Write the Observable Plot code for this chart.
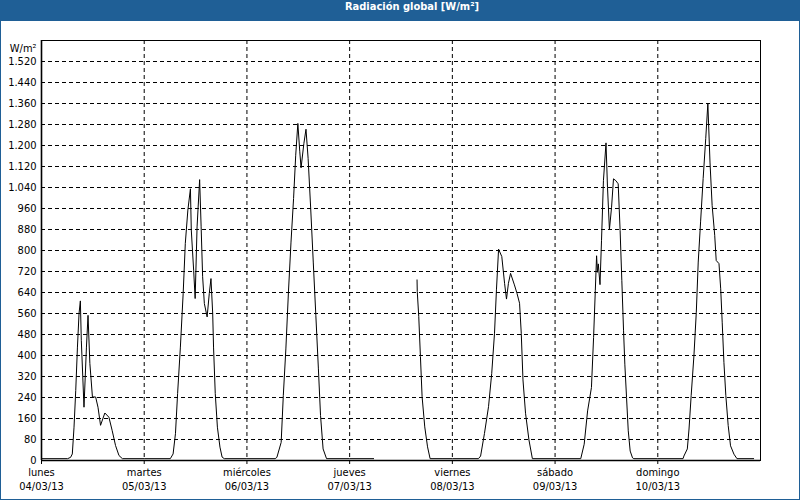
<!DOCTYPE html>
<html>
<head>
<meta charset="utf-8">
<script src="https://cdn.jsdelivr.net/npm/d3@7"></script>
<script src="https://cdn.jsdelivr.net/npm/@observablehq/plot@0.6"></script>
<style>
  html, body { margin: 0; padding: 0; background: #fff; }
  #win { position: relative; width: 800px; height: 500px; box-sizing: border-box;
         border-left: 1px solid #1f5f96; border-right: 1px solid #1f5f96; border-bottom: 1px solid #1f5f96; background: #fff; overflow: hidden; }
  #title { height: 21px; line-height: 21px; background: #1f5f96; color: #fff; text-align: center;
           font: bold 11px "DejaVu Sans Condensed", "DejaVu Sans", sans-serif; padding-left: 24px; margin-left: -1px; margin-right: -1px; }
  #chart svg { display: block; }
</style>
</head>
<body>
<div id="win">
  <div id="title">Radiación global [W/m²]</div>
  <div id="chart"></div>
</div>
<script>
// ---- labels ----
const titleText = "Radiación global [W/m²]";
const unitLabel = "W/m²";
const weekdays = ["lunes", "martes", "miércoles", "jueves", "viernes", "sábado", "domingo"];
const dateLabels = ["04/03/13", "05/03/13", "06/03/13", "07/03/13", "08/03/13", "09/03/13", "10/03/13"];
const yTicks = [0, 80, 160, 240, 320, 400, 480, 560, 640, 720, 800, 880, 960, 1040, 1120, 1200, 1280, 1360, 1440, 1520];

// ---- series: [hour of day, W/m²] per day (null = no data) ----
const lunes = [[0,7],[6.1,7],[6.8,12],[7.2,25],[7.6,127],[8.0,267],[8.4,432],[8.77,560],[9.08,608],[9.3,458],[9.93,203],[10.5,432],[10.87,553],[11.3,370],[11.9,242],[12.65,242],[13.2,203],[13.8,134],[14.8,181],[15.75,165],[16.5,115],[17.3,57],[18.1,19],[18.9,7]];
const martes = [[0,7],[6.1,7],[6.75,25],[7.3,102],[7.8,255],[8.45,432],[9.1,636],[9.6,827],[10.2,954],[10.8,1035],[11.0,878],[11.55,725],[11.9,617],[12.35,890],[12.95,1070],[13.3,890],[13.65,700],[14.05,598],[14.7,547],[15.2,636],[15.6,693],[16.0,560],[16.2,432],[16.6,255],[17.1,127],[17.7,51],[18.2,13],[18.7,7]];
const miercoles = [[0,7],[6.6,7],[7.0,12],[8.0,69],[8.5,247],[9.1,425],[9.7,642],[10.3,832],[10.9,998],[11.4,1163],[11.9,1284],[12.35,1176],[12.65,1115],[13.3,1207],[13.8,1262],[14.3,1150],[14.9,960],[15.5,756],[16.1,553],[16.7,349],[17.2,171],[17.8,44],[18.6,7]];
const jueves = [[0,7],[5.6,7],[5.65,null],[15.75,688],[15.8,644],[16.15,548],[16.54,396],[16.93,243],[17.55,128],[18.2,52],[18.8,7]];
const viernes = [[0,7],[6.1,7],[6.6,17],[7.5,103],[8.45,205],[9.2,332],[9.85,485],[10.3,650],[10.8,805],[11.55,777],[12.2,675],[12.65,615],[13.1,675],[13.6,713],[14.5,669],[15.1,637],[15.7,599],[16.1,485],[16.5,307],[17.1,180],[17.9,78],[18.7,7]];
const sabado = [[0,7],[6.0,7],[6.8,62],[7.6,189],[8.5,278],[9.0,469],[9.4,647],[9.7,780],[9.9,717],[10.1,749],[10.5,670],[10.85,837],[11.3,1066],[11.9,1210],[12.25,1041],[12.7,880],[13.2,965],[13.65,1073],[14.2,1066],[14.75,1054],[15.2,876],[15.6,685],[16.0,494],[16.3,367],[16.7,240],[17.1,113],[17.55,36],[18.1,10],[18.4,7]];
const domingo = [[0,7],[5.9,7],[6.1,17],[6.9,44],[7.3,120],[7.8,247],[8.45,400],[9.0,565],[9.45,756],[10.0,909],[10.6,1074],[11.2,1226],[11.7,1360],[12.2,1137],[12.7,972],[13.3,858],[13.65,762],[14.3,750],[14.7,654],[15.05,527],[15.45,374],[15.9,247],[16.45,133],[17.0,56],[17.8,24],[18.5,7],[22.4,7]];

const seriesByDay = [lunes, martes, miercoles, jueves, viernes, sabado, domingo];
const dayIdx = weekdays.map((_, i) => i);
const data = seriesByDay.flatMap((arr, d) => arr.map(([h, v]) => ({t: d + h / 24, v})));

const es = d3.formatLocale({decimal: ",", thousands: ".", grouping: [3], currency: ["", "€"]});
const fmt = es.format(",");

const dash = "4,3";
const chart = Plot.plot({
  width: 798,
  height: 478,
  marginTop: 19,
  marginBottom: 39,
  marginLeft: 40,
  marginRight: 39,
  x: {domain: [0, 7], axis: null},
  y: {domain: [0, 1600], axis: null},
  style: {fontFamily: '"DejaVu Sans Condensed", "DejaVu Sans", sans-serif', fontSize: "11px", color: "#000", background: "#fff"},
  marks: [
    Plot.ruleY(yTicks.filter(d => d > 0), {stroke: "#000", strokeDasharray: dash}),
    Plot.ruleX(dayIdx.filter(d => d > 0), {x: d => d, stroke: "#000", strokeDasharray: dash}),
    Plot.line(data, {x: "t", y: "v", stroke: "#000", strokeWidth: 1}),
    Plot.frame({stroke: "#000"}),
    Plot.ruleY([0], {stroke: "#000", strokeWidth: 1.6}),
    Plot.ruleX([0], {stroke: "#000", strokeWidth: 1.6}),
    Plot.axisY(yTicks, {tickSize: 0, tickPadding: 5, tickFormat: fmt, label: null, fill: "#000"}),
    Plot.axisX(dayIdx, {tickSize: 4, tickFormat: () => "", label: null}),
    Plot.text(dayIdx, {x: d => d, text: d => weekdays[d], frameAnchor: "bottom", dy: 15, fill: "#000"}),
    Plot.text(dayIdx, {x: d => d, text: d => dateLabels[d], frameAnchor: "bottom", dy: 29.5, fill: "#000"}),
    Plot.text([unitLabel], {text: d => d, frameAnchor: "top-left", dx: -5, dy: 3.5, textAnchor: "end", fill: "#000"})
  ]
});
document.getElementById("chart").appendChild(chart);
</script>
</body>
</html>
